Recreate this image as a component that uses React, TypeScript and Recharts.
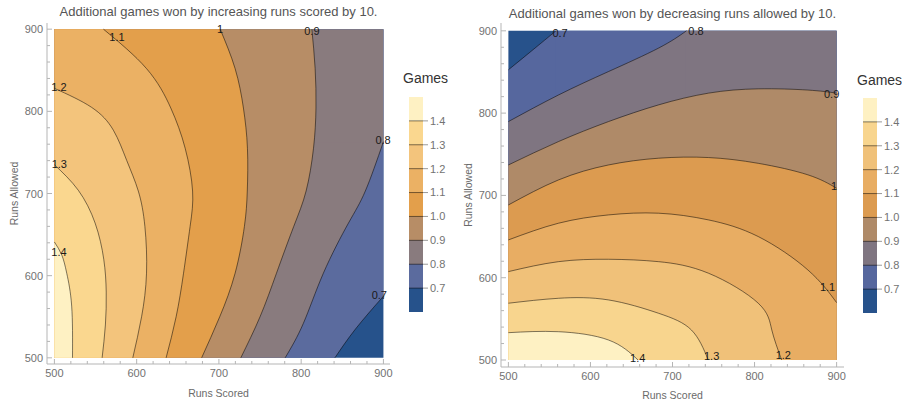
import React from 'react';
import { ComposedChart, Area, Line, XAxis, YAxis, ReferenceDot, ReferenceLine } from 'recharts';

const FONT = '"Liberation Sans", Arial, Helvetica, sans-serif';
const FRAME = '#b5b5b5';
const TICK_TXT = '#727272';
const AXIS_TXT = '#6a6a6a';
const TITLE_TXT = '#555555';

const ALL_TICKS = [500, 520, 540, 560, 580, 600, 620, 640, 660, 680, 700, 720, 740, 760, 780, 800, 820, 840, 860, 880, 900];
const LEGEND_TICKS = [0.7, 0.8, 0.9, 1.0, 1.1, 1.2, 1.3, 1.4];
const LEGEND_TOPS = [0.7, 0.8, 0.9, 1.0, 1.1, 1.2, 1.3, 1.4, 1.5];

const LEFT_TITLE = 'Additional games won by increasing runs scored by 10.';
const RIGHT_TITLE = 'Additional games won by decreasing runs allowed by 10.';

// band colours: <0.7, 0.7-0.8, ..., 1.3-1.4, >1.4
const LEFT_COLORS = ['#26528b', '#5b6b9e', '#897b7e', '#b78d66', '#e39f4b', '#ebb164', '#f3c47c', '#fad78f', '#fef1c3'];
const RIGHT_COLORS = ['#27528b', '#56679e', '#7f7581', '#af8a68', '#dc9b50', '#e8ad63', '#f0c179', '#f8d58e', '#fef1c3'];

// Left plot contours: [runs allowed, runs scored]
const L_07 = [[500, 841], [535, 866], [575, 900]];
const L_08 = [[500, 780.5], [542, 802.7], [603, 827], [664, 857.5], [703, 878], [763, 900]];
const L_09 = [[500, 726.6], [550, 750], [603, 770], [660, 791], [703, 806], [755, 815], [804, 818], [852, 817], [900, 813]];
const L_10 = [[500, 679], [550, 701], [603, 719.7], [660, 731], [703, 734.5], [755, 734.7], [804, 729.8], [852, 719.7], [900, 701.5]];
const L_11 = [[500, 635.8], [550, 648], [603, 657], [660, 665], [703, 668], [755, 659], [804, 641.5], [852, 612], [900, 559.6]];
const L_12 = [[500, 595.3], [550, 606], [603, 612], [660, 610], [703, 602], [740, 588], [777, 571.7], [805, 545], [828, 500]];
const L_13 = [[500, 558], [540, 562], [580, 563], [620, 560], [664, 549.5], [704, 529], [735, 500]];
const L_14 = [[500, 522], [563, 521], [603, 515], [625, 509], [641, 500]];

// Right plot contours: [runs scored, runs allowed]
const R_07 = [[500, 852.6], [530, 877], [558, 900]];
const R_08 = [[500, 789.7], [561, 822], [622, 850.5], [683, 879], [717, 900]];
const R_09 = [[500, 737], [561, 765.4], [622, 789.7], [683, 810], [744, 824.3], [804.5, 829.5], [865, 828], [900, 824.3]];
const R_10 = [[500, 688.4], [561, 718.8], [622, 737], [683, 745.2], [744, 746], [804.5, 739], [865, 725], [900, 708.7]];
const R_11 = [[500, 645.9], [561, 666.2], [622, 676.3], [683, 678.4], [744, 670.2], [804.5, 650], [865, 609.4], [900, 569.7]];
const R_12 = [[500, 607.4], [561, 619.5], [622, 622.4], [683, 619.5], [744, 605.4], [804.5, 569], [821, 536.5], [833, 500]];
const R_13 = [[500, 569], [561, 575], [622, 573], [683, 556.8], [723, 536.5], [743.6, 500]];
const R_14 = [[500, 533.2], [561, 534.4], [622, 524.3], [658, 500]];

// contour labels: [text, runs scored, runs allowed]
const L_LABELS: [string, number, number][] = [
  ['1.1', 576, 889.8], ['1', 701.5, 900], ['0.9', 813, 897.6], ['1.2', 505.5, 829],
  ['1.3', 506, 735.7], ['0.8', 899.6, 764.6], ['1.4', 505.5, 629], ['0.7', 895, 576.3],
];
const R_LABELS: [string, number, number][] = [
  ['0.7', 563, 897.2], ['0.8', 728.6, 900], ['0.9', 893.9, 823], ['1', 897, 711.5],
  ['1.1', 889, 588.4], ['1.2', 835, 506], ['1.3', 747.7, 505], ['1.4', 657.6, 502],
];

const LEFT_CONTOURS = [L_07, L_08, L_09, L_10, L_11, L_12, L_13, L_14];
const RIGHT_CONTOURS = [R_07, R_08, R_09, R_10, R_11, R_12, R_13, R_14];

function tickRenderer(side: string) {
  return (props: any) => {
    const { x, y, payload } = props;
    const v = Number(payload.value);
    const major = v % 100 === 0;
    const len = major ? 5 : 3;
    const txt = { fontSize: 11, fill: TICK_TXT, fontFamily: FONT };
    if (side === 'bottom') {
      return (
        <g>
          <line x1={x} x2={x} y1={y} y2={y - len} stroke={FRAME} />
          {major ? <text x={x} y={y + 13} textAnchor="middle" {...txt}>{v}</text> : null}
        </g>
      );
    }
    if (side === 'top') {
      return <g><line x1={x} x2={x} y1={y} y2={y + len} stroke={FRAME} /></g>;
    }
    if (side === 'left') {
      return (
        <g>
          <line x1={x} x2={x + len} y1={y} y2={y} stroke={FRAME} />
          {major ? <text x={x - 4} y={y + 4} textAnchor="end" {...txt}>{v}</text> : null}
        </g>
      );
    }
    return <g><line x1={x} x2={x - len} y1={y} y2={y} stroke={FRAME} /></g>;
  };
}

function contourLayers(prefix: string, contours: number[][][], colors: string[], catKey: string, valKey: string, labels: [string, number, number][]) {
  const rowsOf = (pts: number[][]) => pts.map((p) => ({ [catKey]: p[0], [valKey]: p[1] }));
  const els: any[] = [];
  els.push(
    <Area key={prefix + 'bg'} data={rowsOf([[500, 900], [900, 900]])} dataKey={valKey} type="linear" baseValue={500}
      fill={colors[0]} fillOpacity={1} stroke="none" isAnimationActive={false} />
  );
  contours.forEach((pts, i) => {
    els.push(
      <Area key={prefix + 'a' + i} data={rowsOf(pts)} dataKey={valKey} type="natural" baseValue={500}
        fill={colors[i + 1]} fillOpacity={1} stroke="none" isAnimationActive={false} />
    );
    const last = pts[pts.length - 1];
    if (last[1] === 900 && last[0] < 900) {
      els.push(
        <Area key={prefix + 'e' + i} data={rowsOf([[last[0] - 1, 900], [900, 900]])} dataKey={valKey} type="linear" baseValue={500}
          fill={colors[i + 1]} fillOpacity={1} stroke="none" isAnimationActive={false} />
      );
    }
  });
  contours.forEach((pts, i) => {
    els.push(
      <Line key={prefix + 'l' + i} data={rowsOf(pts)} dataKey={valKey} type="natural" stroke="#000"
        strokeOpacity={0.5} strokeWidth={1} dot={false} activeDot={false} isAnimationActive={false} />
    );
  });
  labels.forEach(([t, rs, ra], i) => {
    els.push(
      <ReferenceDot key={prefix + 'd' + i} x={rs} y={ra} r={0} fill="none" stroke="none"
        label={{ value: t, position: 'center', fontSize: 11, fill: '#1a1a1a', fontFamily: FONT }} />
    );
  });
  return els;
}

function LegendBar({ colors }: { colors: string[] }) {
  const rows = [0, 1].map((x) => {
    const r: any = { x };
    LEGEND_TOPS.forEach((t, i) => { r['h' + i] = t; });
    return r;
  });
  const areas = LEGEND_TOPS.map((_, i) => LEGEND_TOPS.length - 1 - i).map((i) => (
    <Area key={'lg' + i} dataKey={'h' + i} type="linear" baseValue={0.6} fill={colors[i]} fillOpacity={1}
      stroke="none" isAnimationActive={false} />
  ));
  return (
    <ComposedChart width={39} height={215} data={rows} margin={{ top: 0, right: 0, bottom: 0, left: 0 }}>
      <XAxis type="number" dataKey="x" domain={[0, 1]} hide />
      <YAxis type="number" orientation="right" domain={[0.6, 1.5]} ticks={LEGEND_TICKS} interval={0} width={25}
        axisLine={false} tickSize={5} tickMargin={2} tickLine={{ stroke: '#9a9a9a' }}
        tickFormatter={(v: number) => v.toFixed(1)}
        tick={{ fontSize: 11, fill: TICK_TXT, fontFamily: FONT }} />
      {areas}
      {LEGEND_TICKS.map((v) => (
        <ReferenceLine key={'rl' + v} y={v} stroke="#000" strokeOpacity={0.5} />
      ))}
    </ComposedChart>
  );
}

const titleStyle: React.CSSProperties = {
  position: 'absolute', fontSize: 13, lineHeight: '13px', color: TITLE_TXT, textAlign: 'center', whiteSpace: 'nowrap',
};

export default function App() {
  const axisLbl = { fontSize: 10.5, fill: AXIS_TXT, fontFamily: FONT };
  return (
    <div style={{ position: 'absolute', left: 0, top: 0, width: 902, height: 403, overflow: 'hidden', background: '#fff', fontFamily: FONT }}>
      <div style={{ position: 'absolute', left: 0, top: 0 }}>
        <ComposedChart layout="vertical" width={400} height={403} margin={{ top: 23, right: 10, bottom: 0, left: 7 }}>
          <XAxis type="number" domain={[491, 908]} ticks={ALL_TICKS} interval={0} height={39} tickLine={false}
            tickSize={0} tickMargin={0} axisLine={{ stroke: FRAME }} tick={tickRenderer('bottom')}
            label={{ value: 'Runs Scored', position: 'insideBottom', offset: 6, ...axisLbl }} />
          <XAxis xAxisId="t" orientation="top" type="number" domain={[491, 908]} ticks={ALL_TICKS} interval={0} height={0}
            tickLine={false} tickSize={0} tickMargin={0} axisLine={{ stroke: FRAME }} tick={tickRenderer('top')} />
          <YAxis type="number" dataKey="ra" reversed domain={[492.5, 907.5]} ticks={ALL_TICKS} interval={0} width={40}
            tickLine={false} tickSize={0} tickMargin={0} axisLine={{ stroke: FRAME }} tick={tickRenderer('left')}
            label={{ value: 'Runs Allowed', angle: -90, position: 'insideLeft', offset: 7, style: { textAnchor: 'middle' }, ...axisLbl }} />
          <YAxis yAxisId="r" orientation="right" type="number" reversed domain={[492.5, 907.5]} ticks={ALL_TICKS} interval={0} width={0}
            tickLine={false} tickSize={0} tickMargin={0} axisLine={{ stroke: FRAME }} tick={tickRenderer('right')} />
          {contourLayers('L', LEFT_CONTOURS, LEFT_COLORS, 'ra', 'rs', L_LABELS)}
        </ComposedChart>
      </div>
      <div style={{ position: 'absolute', left: 451, top: 0 }}>
        <ComposedChart width={451} height={403} margin={{ top: 23, right: 58, bottom: 0, left: 10 }}>
          <XAxis type="number" dataKey="rs" domain={[491, 909]} ticks={ALL_TICKS} interval={0} height={36} tickLine={false}
            tickSize={0} tickMargin={0} axisLine={{ stroke: FRAME }} tick={tickRenderer('bottom')}
            label={{ value: 'Runs Scored', position: 'insideBottom', offset: 4, ...axisLbl }} />
          <XAxis xAxisId="t" orientation="top" type="number" domain={[491, 909]} ticks={ALL_TICKS} interval={0} height={0}
            tickLine={false} tickSize={0} tickMargin={0} axisLine={{ stroke: FRAME }} tick={tickRenderer('top')} />
          <YAxis type="number" domain={[491.5, 909.5]} ticks={ALL_TICKS} interval={0} width={40}
            tickLine={false} tickSize={0} tickMargin={0} axisLine={{ stroke: FRAME }} tick={tickRenderer('left')}
            label={{ value: 'Runs Allowed', angle: -90, position: 'insideLeft', offset: 7, style: { textAnchor: 'middle' }, ...axisLbl }} />
          <YAxis yAxisId="r" orientation="right" type="number" domain={[491.5, 909.5]} ticks={ALL_TICKS} interval={0} width={0}
            tickLine={false} tickSize={0} tickMargin={0} axisLine={{ stroke: FRAME }} tick={tickRenderer('right')} />
          {contourLayers('R', RIGHT_CONTOURS, RIGHT_COLORS, 'rs', 'ra', R_LABELS)}
        </ComposedChart>
      </div>
      <div style={{ ...titleStyle, left: 47, top: 5, width: 343 }}>{LEFT_TITLE}</div>
      <div style={{ ...titleStyle, left: 501, top: 6.5, width: 343 }}>{RIGHT_TITLE}</div>
      <div style={{ position: 'absolute', left: 403, top: 71, fontSize: 14, lineHeight: '14px', color: '#333' }}>Games</div>
      <div style={{ position: 'absolute', left: 409, top: 97 }}>
        <LegendBar colors={LEFT_COLORS} />
      </div>
      <div style={{ position: 'absolute', left: 857, top: 73, fontSize: 14, lineHeight: '14px', color: '#333' }}>Games</div>
      <div style={{ position: 'absolute', left: 863, top: 98 }}>
        <LegendBar colors={RIGHT_COLORS} />
      </div>
    </div>
  );
}
